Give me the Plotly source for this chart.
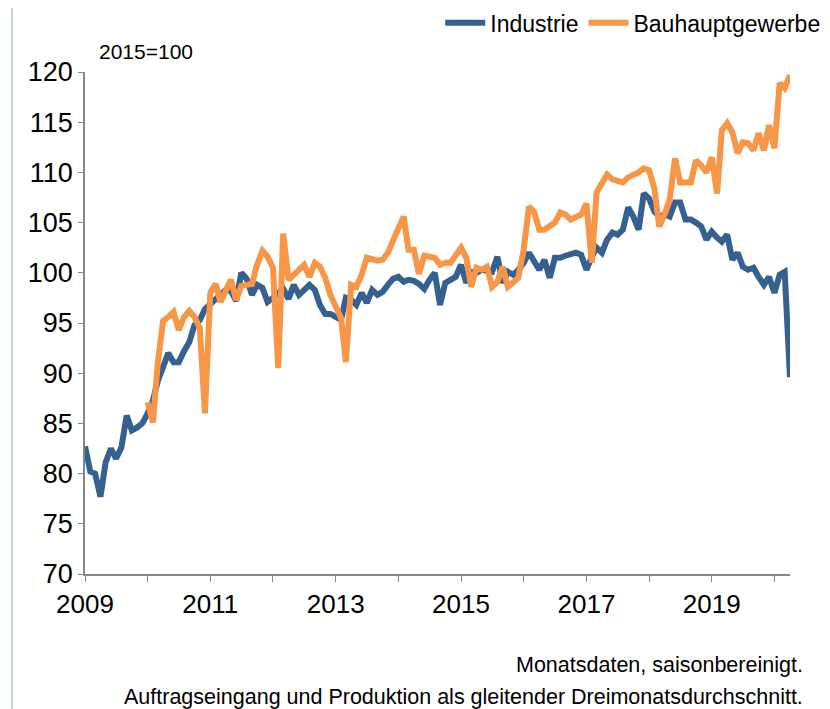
import pandas as pd
import plotly.graph_objects as go

# ---------------- data (monthly, 2015=100) ----------------
industrie_start = "2009-01-01"
industrie = [
    82.7, 80.2, 80.0, 77.7, 81.1, 82.5, 81.5, 82.6, 85.8, 84.3, 84.6, 85.0,      # 2009
    86.0, 87.3, 89.2, 90.8, 92.0, 91.1, 91.1, 92.2, 93.1, 94.8, 95.3, 96.4,      # 2010
    96.9, 97.4, 97.9, 98.3, 98.2, 97.2, 100.0, 99.4, 97.8, 98.8, 98.5, 97.1,     # 2011
    97.5, 98.0, 98.4, 97.4, 98.8, 97.8, 98.3, 98.8, 98.3, 96.8, 95.9, 95.9,      # 2012
    95.6, 95.3, 97.5, 97.3, 96.8, 98.0, 97.0, 98.3, 97.8, 98.1, 98.8, 99.4,      # 2013
    99.6, 99.1, 99.3, 99.2, 98.9, 98.4, 99.3, 100.0, 96.8, 99.0, 99.3, 99.6,     # 2014
    100.8, 99.0, 100.1, 100.0, 100.3, 100.2, 100.1, 101.6, 99.0, 100.1, 99.8, 100.3,  # 2015
    101.0, 102.0, 101.1, 100.3, 101.3, 99.5, 101.5, 101.5, 101.7, 101.8, 102.0, 101.8,  # 2016
    100.3, 101.6, 102.5, 102.0, 103.3, 104.0, 103.8, 104.3, 106.5, 105.6, 104.3, 107.9,  # 2017
    107.4, 106.1, 105.6, 105.8, 105.6, 107.0, 107.0, 105.3, 105.3, 105.0, 104.6, 103.3,  # 2018
    104.1, 103.5, 103.1, 103.8, 101.3, 102.0, 100.6, 100.3, 100.5, 99.6, 98.8, 99.6,     # 2019
    98.0, 99.8, 100.1, 89.6,                                                            # 2020
]

bau_start = "2010-01-01"
bauhauptgewerbe = [
    87.1, 85.1, 91.0, 95.2, 95.6, 96.1, 94.3, 95.6, 96.2, 95.6, 94.5, 86.0,      # 2010
    98.0, 98.9, 97.1, 98.3, 99.3, 97.3, 98.7, 98.8, 98.9, 100.8, 102.2, 101.6,   # 2011
    100.5, 90.5, 103.9, 99.3, 99.8, 100.3, 100.8, 99.6, 101.0, 100.6, 99.5, 97.8,  # 2012
    96.7, 95.5, 91.1, 98.8, 98.6, 99.8, 101.5, 101.3, 101.2, 101.3, 102.0, 103.2,  # 2013
    104.4, 105.6, 102.3, 102.3, 99.9, 101.7, 101.6, 101.5, 100.8, 101.0, 101.0, 101.8,  # 2014
    102.5, 101.5, 98.6, 100.5, 100.3, 100.6, 98.6, 99.1, 100.6, 98.6, 99.1, 99.5,      # 2015
    102.3, 106.6, 106.1, 104.3, 104.3, 104.6, 105.0, 106.0, 105.8, 105.3, 105.5, 105.8,  # 2016
    106.9, 101.0, 108.0, 109.0, 109.8, 109.3, 109.1, 109.0, 109.5, 109.7, 110.0, 110.4,  # 2017
    110.2, 108.4, 104.6, 105.8, 107.3, 111.4, 109.0, 109.0, 109.0, 111.2, 110.7, 110.0,  # 2018
    111.5, 107.9, 114.2, 114.9, 114.0, 111.9, 113.0, 112.9, 112.2, 113.9, 112.2, 114.7,  # 2019
    112.4, 118.9, 118.4, 119.7,                                                          # 2020
]

series_names = ["Industrie", "Bauhauptgewerbe"]
tick_years = list(range(2009, 2021))
tick_labels = ["2009", "", "2011", "", "2013", "", "2015", "", "2017", "", "2019", ""]
y_ticks = [70, 75, 80, 85, 90, 95, 100, 105, 110, 115, 120]

note_base = "2015=100"
footnote_1 = "Monatsdaten, saisonbereinigt."
footnote_2 = "Auftragseingang und Produktion als gleitender Dreimonatsdurchschnitt."

# ---------------- figure ----------------
x_ind = pd.date_range(industrie_start, periods=len(industrie), freq="MS")
x_bau = pd.date_range(bau_start, periods=len(bauhauptgewerbe), freq="MS")

FONT = "Liberation Sans, Arial, sans-serif"
BLUE = "#36608F"
ORANGE = "#F79646"
AXIS = "#868686"

fig = go.Figure()
fig.add_trace(go.Scatter(x=x_ind, y=industrie, mode="lines", name=series_names[0],
                         line=dict(color=BLUE, width=6)))
fig.add_trace(go.Scatter(x=x_bau, y=bauhauptgewerbe, mode="lines", name=series_names[1],
                         line=dict(color=ORANGE, width=6)))

# page body has an 8px default margin -> figure is 822x701, shifted by 8px
fig.update_layout(
    width=822, height=701,
    margin=dict(l=77, r=40, t=64, b=135, autoexpand=False),
    plot_bgcolor="white", paper_bgcolor="white",
    font=dict(family=FONT, color="black"),
    showlegend=True,
    legend=dict(orientation="h", x=1.05, xanchor="right", y=1.098, yanchor="middle",
                font=dict(size=23, family=FONT), bgcolor="rgba(0,0,0,0)",
                itemwidth=40, tracegroupgap=0),
    xaxis=dict(
        type="date", range=[x_ind[0], x_ind[-1]],
        tickvals=[pd.Timestamp(f"{y}-01-01") for y in tick_years],
        ticktext=tick_labels,
        ticks="outside", ticklen=6, tickwidth=1.2, tickcolor=AXIS,
        showline=True, linecolor=AXIS, linewidth=1.5,
        showgrid=False, zeroline=False, automargin=False,
        tickfont=dict(size=26, family=FONT, color="black"),
    ),
    yaxis=dict(
        range=[70, 120], tickvals=y_ticks,
        ticks="outside", ticklen=5, tickwidth=1.2, tickcolor=AXIS,
        showline=True, linecolor=AXIS, linewidth=1.5,
        showgrid=False, zeroline=False, automargin=False,
        tickfont=dict(size=27, family=FONT, color="black"),
    ),
    annotations=[
        dict(text=note_base, xref="paper", yref="paper", x=0.017, y=1.04,
             xanchor="left", yanchor="middle", showarrow=False,
             font=dict(size=21, family=FONT, color="black")),
        dict(text=footnote_1, xref="paper", yref="paper", x=1.021, y=-0.181,
             xanchor="right", yanchor="middle", showarrow=False,
             font=dict(size=21.5, family=FONT, color="black")),
        dict(text=footnote_2, xref="paper", yref="paper", x=1.021, y=-0.245,
             xanchor="right", yanchor="middle", showarrow=False,
             font=dict(size=21.5, family=FONT, color="black")),
    ],
    shapes=[
        dict(type="line", xref="paper", yref="paper", x0=-0.1035, x1=-0.1035,
             y0=-0.27, y1=1.15, line=dict(color="#C6D4E8", width=2)),
    ],
)

fig.write_html("out.html")
